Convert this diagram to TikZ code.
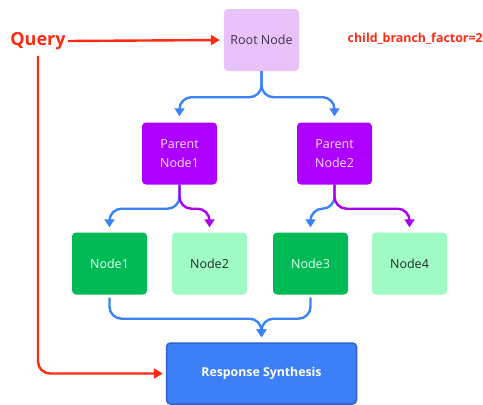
\documentclass[tikz,border=0pt]{standalone}
\usepackage{fontspec}
\setmainfont{Open Sans}
\usetikzlibrary{arrows.meta}

\definecolor{rootfill}{HTML}{EAC2FA}
\definecolor{rootText}{HTML}{3A3448}
\definecolor{parentfill}{HTML}{AD00FF}
\definecolor{parentText}{HTML}{F3E2FF}
\definecolor{leafdark}{HTML}{00BB55}
\definecolor{leafdarkText}{HTML}{E8FFF1}
\definecolor{leaflight}{HTML}{9FFAC4}
\definecolor{leaflightText}{HTML}{1E2E27}
\definecolor{respfill}{HTML}{3D7FF6}
\definecolor{respedge}{HTML}{2C63CC}
\definecolor{flowblue}{HTML}{3B82F6}
\definecolor{flowpurple}{HTML}{A900EF}
\definecolor{queryred}{HTML}{FF2A12}

\tikzset{
  box/.style={minimum width=75pt, minimum height=62pt, rounded corners=4pt,
    inner sep=0pt, align=center, font=\fontsize{12.5}{19}\selectfont},
  rootbox/.style={box, fill=rootfill, text=rootText},
  parentbox/.style={box, fill=parentfill, text=parentText},
  darkleaf/.style={box, fill=leafdark, text=leafdarkText},
  lightleaf/.style={box, fill=leaflight, text=leaflightText},
  respbox/.style={minimum width=190pt, minimum height=61pt, rounded corners=4pt,
    fill=respfill, draw=respedge, line width=1.5pt, text=white, inner sep=0pt,
    font=\fontsize{12.3}{14}\selectfont\bfseries},
  flow/.style={line width=2.4pt, rounded corners=12pt,
    -{Triangle[width=10pt,length=8pt]}},
  blueflow/.style={flow, draw=flowblue},
  purpleflow/.style={flow, draw=flowpurple},
  redflow/.style={line width=2.4pt, rounded corners=12pt, draw=queryred,
    -{Triangle[width=10pt,length=9pt]}},
}

\begin{document}
\begin{tikzpicture}[x=1pt, y=-1pt]
  \useasboundingbox (0,0) rectangle (483,405);

  % tree of nodes
  \node[rootbox] (root) at (261.5,40) {Root Node};
  \node[parentbox] (p1) at (179.5,153.5) {Parent\\Node1};
  \node[parentbox] (p2) at (334.5,153.5) {Parent\\Node2};
  \node[darkleaf]  (n1) at (109.5,263.5) {Node1};
  \node[lightleaf] (n2) at (209.5,263.5) {Node2};
  \node[darkleaf]  (n3) at (310.5,263.5) {Node3};
  \node[lightleaf] (n4) at (409.5,263.5) {Node4};
  \node[respbox] (resp) at (261.5,373.5) {Response Synthesis};

  % labels
  \node[text=queryred, font=\fontsize{18}{20}\selectfont\bfseries, inner sep=2pt]
    (query) at (38,41) {Query};
  \node[text=queryred, font=\fontsize{12.4}{12}\selectfont\bfseries, anchor=west, inner sep=0pt]
    (cbf) at (347.5,39) {child\_branch\_factor=2};

  % root to parents
  \draw[blueflow] (root.south) -- ++(0,26) -| ([yshift=6pt]p1.north);
  \draw[blueflow] (root.south) -- ++(0,26) -| ([yshift=6pt]p2.north);

  % parents to leaves
  \draw[blueflow]   (p1.south) -- ++(0,24) -| ([yshift=5pt]n1.north);
  \draw[purpleflow] (p1.south) -- ++(0,24) -| ([yshift=5pt]n2.north);
  \draw[blueflow]   (p2.south) -- ++(0,24) -| ([yshift=5pt]n3.north);
  \draw[purpleflow] (p2.south) -- ++(0,24) -| ([yshift=5pt]n4.north);

  % selected leaves to synthesis
  \draw[blueflow] ([yshift=-3pt]n1.south) -- ++(0,21) -| ([yshift=5pt]resp.north);
  \draw[blueflow] ([yshift=-3pt]n3.south) -- ++(0,21) -| ([yshift=5pt]resp.north);

  % query paths
  \draw[redflow] (query.east) -- ([xshift=-4pt]root.west);
  \draw[redflow] ([yshift=-4pt]query.south) |- ([xshift=-3pt]resp.west);
\end{tikzpicture}
\end{document}
